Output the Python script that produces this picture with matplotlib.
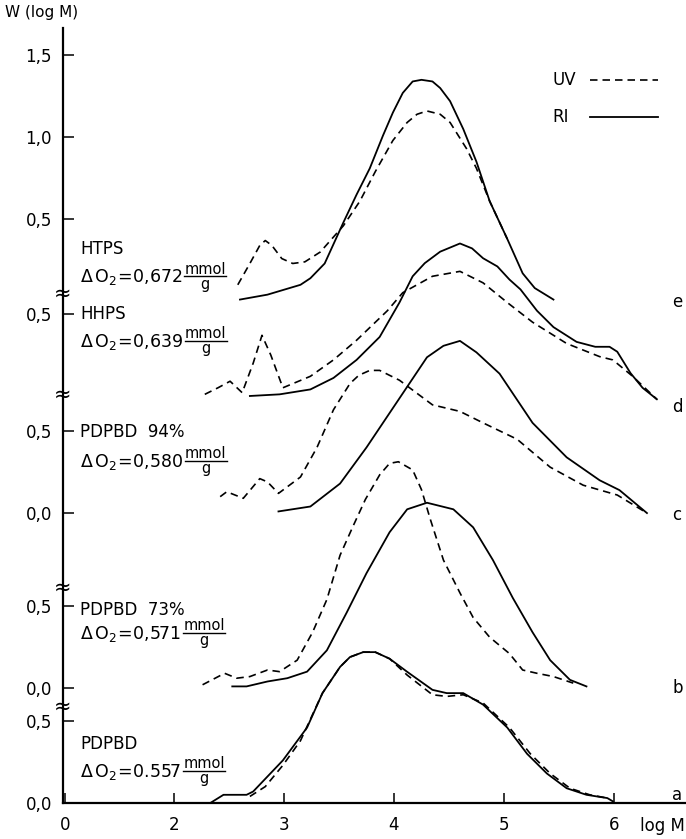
import numpy as np
import matplotlib.pyplot as plt

# log M values, W(log M) (each curve relative to its own baseline)
# e: HTPS
e_ri_x = [2.60, 2.85, 3.15, 3.24, 3.37, 3.54, 3.66, 3.78, 3.90, 3.99, 4.08, 4.17, 4.25, 4.35, 4.42, 4.51, 4.63, 4.75, 4.87, 5.03, 5.17, 5.28, 5.45]
e_ri_w = [0.01, 0.04, 0.10, 0.14, 0.23, 0.48, 0.65, 0.81, 1.01, 1.15, 1.27, 1.34, 1.35, 1.34, 1.30, 1.22, 1.05, 0.85, 0.61, 0.38, 0.17, 0.08, 0.01]
e_uv_x = [2.58, 2.69, 2.78, 2.83, 2.89, 2.98, 3.08, 3.19, 3.33, 3.54, 3.69, 3.83, 3.99, 4.12, 4.21, 4.30, 4.42, 4.51, 4.66, 4.75, 4.87, 5.03]
e_uv_w = [0.10, 0.23, 0.34, 0.37, 0.34, 0.26, 0.23, 0.24, 0.30, 0.46, 0.61, 0.79, 0.98, 1.09, 1.14, 1.16, 1.14, 1.09, 0.93, 0.81, 0.61, 0.38]

# d: HHPS
d_ri_x = [2.69, 2.96, 3.24, 3.45, 3.66, 3.87, 4.05, 4.17, 4.28, 4.42, 4.60, 4.71, 4.81, 4.94, 5.05, 5.15, 5.30, 5.45, 5.66, 5.83, 5.96, 6.03, 6.15, 6.26, 6.39]
d_ri_w = [0.00, 0.01, 0.04, 0.11, 0.22, 0.36, 0.57, 0.73, 0.81, 0.88, 0.93, 0.90, 0.84, 0.79, 0.71, 0.65, 0.52, 0.42, 0.33, 0.30, 0.30, 0.27, 0.14, 0.05, -0.02]
d_uv_x = [2.28, 2.40, 2.51, 2.62, 2.72, 2.80, 2.88, 2.99, 3.24, 3.45, 3.66, 3.94, 4.08, 4.35, 4.60, 4.81, 5.03, 5.26, 5.57, 5.87, 5.99, 6.17, 6.39]
d_uv_w = [0.01, 0.05, 0.09, 0.02, 0.20, 0.37, 0.25, 0.05, 0.12, 0.22, 0.34, 0.52, 0.63, 0.73, 0.76, 0.69, 0.57, 0.45, 0.32, 0.24, 0.22, 0.12, -0.02]

# c: PDPBD 94%
c_ri_x = [2.95, 3.24, 3.51, 3.75, 3.94, 4.12, 4.30, 4.45, 4.60, 4.75, 4.96, 5.26, 5.57, 5.87, 6.05, 6.30]
c_ri_w = [0.01, 0.04, 0.18, 0.40, 0.59, 0.77, 0.95, 1.02, 1.05, 0.98, 0.85, 0.55, 0.34, 0.20, 0.14, 0.00]
c_uv_x = [2.42, 2.48, 2.63, 2.78, 2.85, 2.95, 3.15, 3.30, 3.45, 3.60, 3.68, 3.78, 3.87, 4.05, 4.35, 4.60, 4.81, 5.12, 5.42, 5.72, 6.03, 6.30]
c_uv_w = [0.10, 0.13, 0.09, 0.21, 0.19, 0.12, 0.22, 0.40, 0.63, 0.79, 0.84, 0.87, 0.87, 0.81, 0.66, 0.62, 0.55, 0.45, 0.28, 0.17, 0.11, 0.00]

# b: PDPBD 73%
b_ri_x = [2.53, 2.66, 2.85, 3.03, 3.21, 3.39, 3.57, 3.75, 3.96, 4.12, 4.30, 4.54, 4.72, 4.90, 5.08, 5.26, 5.42, 5.60, 5.75]
b_ri_w = [0.01, 0.01, 0.04, 0.06, 0.10, 0.23, 0.46, 0.70, 0.95, 1.09, 1.13, 1.09, 0.98, 0.78, 0.55, 0.34, 0.17, 0.05, 0.01]
b_uv_x = [2.26, 2.46, 2.57, 2.69, 2.85, 2.96, 3.12, 3.26, 3.39, 3.51, 3.63, 3.74, 3.87, 3.96, 4.04, 4.17, 4.25, 4.33, 4.45, 4.60, 4.72, 4.87, 5.05, 5.17, 5.30, 5.45, 5.63]
b_uv_w = [0.02, 0.09, 0.06, 0.07, 0.11, 0.10, 0.17, 0.34, 0.54, 0.81, 0.99, 1.15, 1.30, 1.37, 1.38, 1.33, 1.21, 1.03, 0.78, 0.58, 0.43, 0.31, 0.21, 0.11, 0.09, 0.07, 0.03]

# a: PDPBD
a_ri_x = [2.33, 2.45, 2.66, 2.72, 2.99, 3.21, 3.35, 3.51, 3.60, 3.72, 3.83, 3.96, 4.12, 4.35, 4.48, 4.63, 4.81, 5.03, 5.21, 5.39, 5.57, 5.75, 5.94, 5.99]
a_ri_w = [0.00, 0.05, 0.05, 0.07, 0.26, 0.46, 0.67, 0.83, 0.89, 0.92, 0.92, 0.88, 0.80, 0.69, 0.67, 0.67, 0.60, 0.46, 0.30, 0.18, 0.09, 0.05, 0.03, 0.01]
a_uv_x = [2.69, 2.83, 2.99, 3.15, 3.35, 3.51, 3.60, 3.72, 3.83, 3.96, 4.12, 4.35, 4.48, 4.63, 4.81, 5.05, 5.24, 5.42, 5.60, 5.78, 5.94]
a_uv_w = [0.04, 0.10, 0.23, 0.38, 0.67, 0.83, 0.89, 0.92, 0.92, 0.88, 0.78, 0.66, 0.65, 0.66, 0.61, 0.46, 0.30, 0.18, 0.09, 0.05, 0.03]

panels = ['a', 'b', 'c', 'd', 'e']
curve_offset = [0.0, 0.701, 1.768, 2.482, 3.06]
tick_vals = [[0.0, 0.5], [0.0, 0.5], [0.0, 0.5], [0.5], [0.5, 1.0, 1.5]]
ri = [(a_ri_x, a_ri_w), (b_ri_x, b_ri_w), (c_ri_x, c_ri_w), (d_ri_x, d_ri_w), (e_ri_x, e_ri_w)]
uv = [(a_uv_x, a_uv_w), (b_uv_x, b_uv_w), (c_uv_x, c_uv_w), (d_uv_x, d_uv_w), (e_uv_x, e_uv_w)]

names = ['PDPBD', 'PDPBD  73%', 'PDPBD  94%', 'HHPS', 'HTPS']
doxy = ['0.557', '0{,}571', '0{,}580', '0{,}639', '0{,}672']

W, H = 686, 839
fig = plt.figure(figsize=(W / 100, H / 100), dpi=100)
ax = fig.add_axes([63 / W, 36 / H, 623 / W, 775 / H])

for i in range(5):
    x, w = ri[i]
    ax.plot(x, np.array(w) + curve_offset[i], color='k', lw=1.3)
    x, w = uv[i]
    ax.plot(x, np.array(w) + curve_offset[i], color='k', lw=1.2, dashes=(4.5, 3))

ax.set_xlim(0.991, 6.655)
ax.set_ylim(0, 4.726)
for s in ['top', 'right']:
    ax.spines[s].set_visible(False)
for s in ['left', 'bottom']:
    ax.spines[s].set_linewidth(1.6)

ax.set_xticks([1.01, 2, 3, 4, 5, 6])
ax.set_xticklabels(['0', '2', '3', '4', '5', '6'])
ypos, ylab = [], []
for i in range(5):
    for v in tick_vals[i]:
        ypos.append(curve_offset[i] + v)
        ylab.append(('%.1f' % v).replace('.', ','))
ax.set_yticks(ypos)
ax.set_yticklabels(ylab)
ax.tick_params(axis='y', direction='in', length=8, width=1.1, labelsize=12, pad=8)
ax.tick_params(axis='x', direction='in', length=7, width=1.1, labelsize=12, pad=9)


def ftxt(x, y, s, **kw):
    return fig.text(x / W, 1 - y / H, s, **kw)


ftxt(5, 12, 'W (log M)', fontsize=11, va='center')
ftxt(640, 826, 'log M', fontsize=12, va='center')

# break marks on the y axis
for y in [294, 395, 588, 707]:
    ftxt(63, y, '≈', fontsize=15, ha='center', va='center')

# legend
ftxt(552, 80, 'UV', fontsize=12, va='center')
ftxt(552, 117, 'RI', fontsize=12, va='center')
fig.add_artist(plt.Line2D([590 / W, 658 / W], [1 - 80 / H, 1 - 80 / H], color='k', lw=1.2, dashes=(4.5, 3)))
fig.add_artist(plt.Line2D([590 / W, 658 / W], [1 - 117 / H, 1 - 117 / H], color='k', lw=1.3))

# sample names and oxygen uptake with a stacked mmol/g fraction
renderer = fig.canvas.get_renderer()
name_y = [744, 610, 432, 314, 249]
doxy_y = [772, 634, 462, 342, 277]
for i in range(5):
    ftxt(80, name_y[i], names[i], fontsize=12, va='center')
    t = ftxt(80, doxy_y[i], r'$\Delta\,\mathrm{O}_2\!=\!%s$' % doxy[i], fontsize=12.5, va='center')
    bb = t.get_window_extent(renderer)
    x0 = bb.x1 + 2
    num = ftxt(x0, doxy_y[i] - 8, 'mmol', fontsize=10.5, va='center')
    nb = num.get_window_extent(renderer)
    yl = 1 - (doxy_y[i] - 1) / H
    fig.add_artist(plt.Line2D([x0 / W, nb.x1 / W], [yl, yl], color='k', lw=1.0))
    ftxt((x0 + nb.x1) / 2, doxy_y[i] + 7, 'g', fontsize=10.5, ha='center', va='center')

# curve letters
letter_y = [795, 688, 515, 407, 302]
for i in range(5):
    ftxt(672, letter_y[i], panels[i], fontsize=12, va='center')

fig.savefig('out.png', dpi=100)
